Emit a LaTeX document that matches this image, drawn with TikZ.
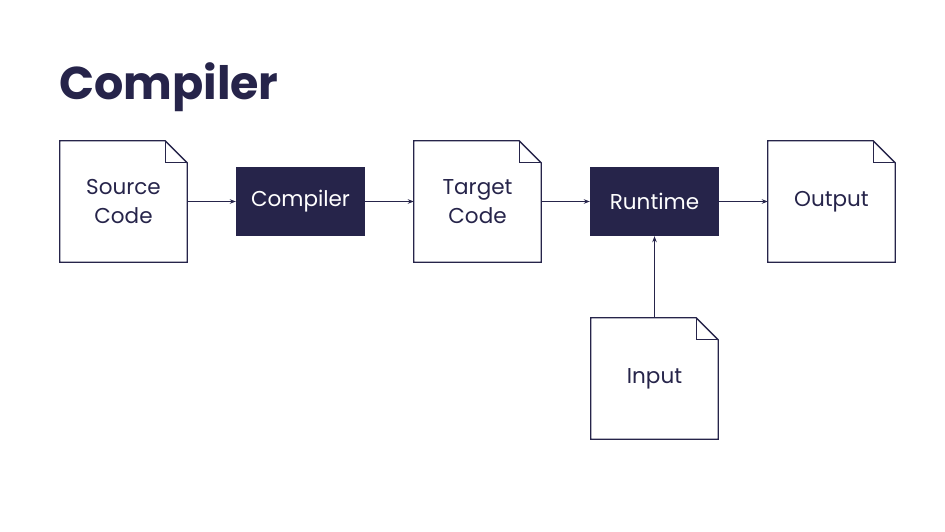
\documentclass[tikz,border=0pt]{standalone}
\usepackage{fontspec}
\setmainfont{Poppins}
\usetikzlibrary{arrows.meta}
\definecolor{navy}{HTML}{26244A}
\tikzset{
  docbox/.style={minimum width=127pt, minimum height=121pt, inner sep=0pt, align=center, text=navy, font=\fontsize{21.5}{29}\selectfont},
  darkbox/.style={minimum width=129pt, minimum height=69pt, inner sep=0pt, fill=navy, text=white, font=\fontsize{21.5}{29}\selectfont},
  conn/.style={draw=navy, line width=0.8pt, -{Stealth[length=6pt,width=4.5pt]}},
  outline/.style={draw=navy, line width=1.3pt, line join=miter}
}
\newcommand{\docframe}[1]{%
  \draw[outline] (#1.south west) -- (#1.north west) -- ([xshift=-22pt]#1.north east) -- ([yshift=-22pt]#1.north east) -- (#1.south east) -- cycle;
  \draw[outline] ([xshift=-22pt]#1.north east) -- ([xshift=-22pt,yshift=-22pt]#1.north east) -- ([yshift=-22pt]#1.north east);
}
\begin{document}
\begin{tikzpicture}[x=1pt,y=-1pt]
\useasboundingbox (0,0) rectangle (945,532);
\node[anchor=base west, text=navy, font=\fontsize{46}{55}\selectfont\bfseries, inner sep=0pt] (title) at (59,100) {Compiler};
\node[docbox] (src) at (123.5,201.5) {Source\\Code};
\node[darkbox] (cmp) at (300.5,201.5) {Compiler};
\node[docbox] (tgt) at (477.5,201.5) {Target\\Code};
\node[darkbox] (run) at (654.5,201.5) {Runtime};
\node[docbox] (out) at (831.5,201.5) {Output};
\node[docbox] (inp) at (654.5,378.5) {Input};
\docframe{src}
\docframe{tgt}
\docframe{out}
\docframe{inp}
\draw[conn] (src) -- (cmp);
\draw[conn] (cmp) -- (tgt);
\draw[conn] (tgt) -- (run);
\draw[conn] (run) -- (out);
\draw[conn] (inp) -- (run);
\end{tikzpicture}
\end{document}
